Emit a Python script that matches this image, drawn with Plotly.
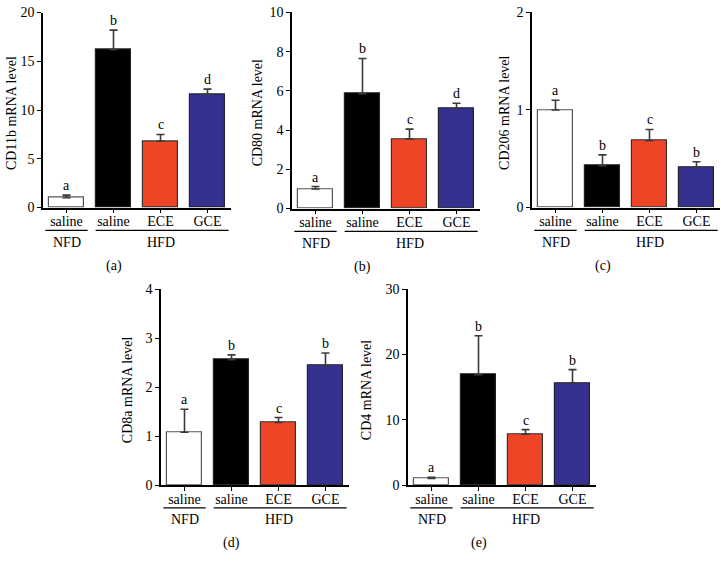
import plotly.graph_objects as go

# ---- data ----
treatments = ["saline", "saline", "ECE", "GCE"]
diets = ["NFD", "HFD", "HFD", "HFD"]

cd11b_mean = [1.0, 16.2, 6.8, 11.6]
cd11b_err = [0.28, 2.0, 0.7, 0.55]
cd11b_sig = ["a", "b", "c", "d"]

cd80_mean = [1.0, 5.85, 3.55, 5.1]
cd80_err = [0.12, 1.8, 0.5, 0.27]
cd80_sig = ["a", "b", "c", "d"]

cd206_mean = [1.0, 0.43, 0.685, 0.415]
cd206_err = [0.1, 0.11, 0.115, 0.055]
cd206_sig = ["a", "b", "c", "b"]

cd8a_mean = [1.08, 2.56, 1.28, 2.44]
cd8a_err = [0.47, 0.1, 0.1, 0.26]
cd8a_sig = ["a", "b", "c", "b"]

cd4_mean = [1.0, 16.9, 7.8, 15.65]
cd4_err = [0.2, 6.0, 0.7, 2.05]
cd4_sig = ["a", "b", "c", "b"]

bar_colors = ["#FFFFFF", "#000000", "#EE4526", "#34318F"]
line_colors = ["#555555", "#222222", "#333333", "#222233"]

W, H = 721, 569
FONT = "Liberation Serif, Times New Roman, serif"
FS = 14
TXT = "#000000"

# (mean, err, sig, title, ymax, dtick, x0, x1, ytop, ybot, title_offset, label)
panels = [
    (cd11b_mean, cd11b_err, cd11b_sig, "CD11b mRNA level", 20, 5, 43, 231, 5.7, 206, 31, "(a)"),
    (cd80_mean, cd80_err, cd80_sig, "CD80 mRNA level", 10, 2, 292, 480, 5.5, 207, 35, "(b)"),
    (cd206_mean, cd206_err, cd206_sig, "CD206 mRNA level", 2, 1, 532, 720, 5.5, 206, 27, "(c)"),
    (cd8a_mean, cd8a_err, cd8a_sig, "CD8a mRNA level", 4, 1, 161, 349, 290, 491, 34, "(d)"),
    (cd4_mean, cd4_err, cd4_sig, "CD4 mRNA level", 30, 10, 408, 596, 290, 491, 42, "(e)"),
]

fig = go.Figure()
annotations = []
shapes = []
xs = list(range(len(treatments)))

for i, (mean, err, sig, title, ymax, dtick, x0, x1, ytop, ybot, toff, lab) in enumerate(panels):
    n = "" if i == 0 else str(i + 1)
    xa, ya = "x" + n, "y" + n
    fig.add_trace(go.Bar(
        x=xs, y=mean, width=0.74,
        marker=dict(color=bar_colors, line=dict(color=line_colors, width=1.2)),
        error_y=dict(type="data", symmetric=False, array=err,
                     arrayminus=[0] * len(err), color="#3a3a3a",
                     thickness=1.6, width=4),
        xaxis=xa, yaxis=ya, showlegend=False, hoverinfo="skip",
    ))
    xdom = [x0 / W, x1 / W]
    ydom = [1 - ybot / H, 1 - ytop / H]
    fig.layout["xaxis" + n] = dict(
        domain=xdom, range=[-0.5, 3.5], anchor=ya,
        tickvals=xs, ticktext=treatments, ticks="outside", ticklen=4,
        tickwidth=1.3, tickcolor="#000", showline=True, linecolor="#000",
        linewidth=1.5, showgrid=False, zeroline=False, ticklabelstandoff=-4,
        tickfont=dict(family=FONT, size=FS, color=TXT),
    )
    fig.layout["yaxis" + n] = dict(
        domain=ydom, range=[0, ymax], anchor=xa, dtick=dtick,
        ticks="outside", ticklen=4, tickwidth=1.3, tickcolor="#000",
        showline=True, linecolor="#000", linewidth=1.5, showgrid=False,
        zeroline=False, tickfont=dict(family=FONT, size=FS, color=TXT),
    )
    # significance letters
    for k in xs:
        annotations.append(dict(
            x=k, y=mean[k] + err[k], xref=xa, yref=ya, text=sig[k],
            showarrow=False, yanchor="bottom", yshift=0,
            font=dict(family=FONT, size=FS, color=TXT),
        ))
    # y axis title
    annotations.append(dict(
        x=(x0 - toff) / W, y=1 - ((ytop + ybot) / 2 + 3) / H,
        xref="paper", yref="paper", text=title, textangle=-90,
        showarrow=False, xanchor="center", yanchor="middle",
        font=dict(family=FONT, size=FS, color=TXT),
    ))
    # diet group lines and labels
    groups = []
    for k, d in enumerate(diets):
        if groups and groups[-1][0] == d:
            groups[-1][2] = k
        else:
            groups.append([d, k, k])
    for d, ks, ke in groups:
        shapes.append(dict(
            type="line", xref=xa, yref="paper",
            x0=ks - 0.45 + (0.07 if ks > 0 else 0), x1=ke + 0.45,
            y0=1 - (ybot + 23.5) / H, y1=1 - (ybot + 23.5) / H,
            line=dict(color="#000", width=1.3),
        ))
        annotations.append(dict(
            x=(ks + ke) / 2, y=1 - (ybot + 35.5) / H, xref=xa, yref="paper",
            text=d, showarrow=False, xanchor="center", yanchor="middle",
            font=dict(family=FONT, size=FS, color=TXT),
        ))
    # panel label
    annotations.append(dict(
        x=1, y=1 - (ybot + 60) / H, xref=xa, yref="paper", text=lab,
        showarrow=False, xanchor="center", yanchor="middle",
        font=dict(family=FONT, size=FS, color=TXT),
    ))

fig.update_layout(
    width=W, height=H, margin=dict(l=0, r=0, t=0, b=0),
    paper_bgcolor="white", plot_bgcolor="white",
    annotations=annotations, shapes=shapes, bargap=0,
)

fig.write_html(
    "out.html",
    config={"displayModeBar": False},
    post_script="document.body.style.margin='0';document.body.style.overflow='hidden';",
)
